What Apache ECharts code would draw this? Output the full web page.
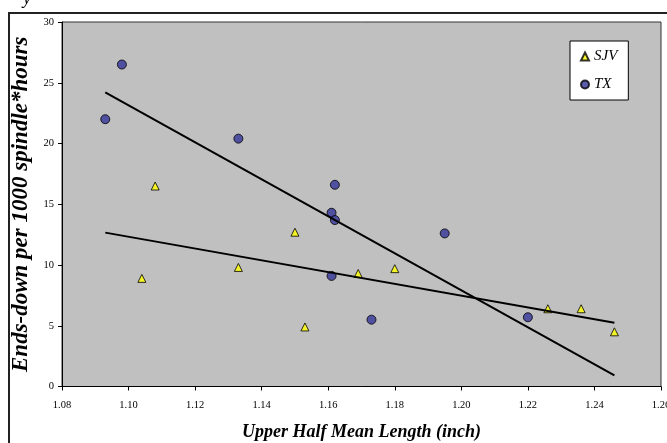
<!DOCTYPE html>
<html>
<head>
<meta charset="utf-8">
<script src="https://cdn.jsdelivr.net/npm/echarts@6/dist/echarts.min.js"></script>
<style>
html, body { margin: 0; padding: 0; background: #fff; }
#chart { width: 667px; height: 443px; }
</style>
</head>
<body>
<div id="chart"></div>
<script>
// 数据
var sjvX = [1.104, 1.108, 1.133, 1.150, 1.153, 1.169, 1.180, 1.226, 1.236, 1.246];
var sjvY = [8.9, 16.5, 9.8, 12.7, 4.9, 9.3, 9.7, 6.4, 6.4, 4.5];
var txX = [1.093, 1.098, 1.133, 1.161, 1.162, 1.162, 1.161, 1.173, 1.195, 1.220];
var txY = [22.0, 26.5, 20.4, 14.3, 16.6, 13.7, 9.1, 5.5, 12.6, 5.7];
var xTicks = [1.08, 1.10, 1.12, 1.14, 1.16, 1.18, 1.20, 1.22, 1.24, 1.26];
var yTicks = [0, 5, 10, 15, 20, 25, 30];

var serif = "'Liberation Serif', 'Times New Roman', serif";

// 线性趋势线 (最小二乘)
var linFit = function (xs, ys) {
    var n = xs.length, mx = 0, my = 0, sxy = 0, sxx = 0;
    for (var i = 0; i < n; i++) { mx += xs[i]; my += ys[i]; }
    mx /= n; my /= n;
    for (var j = 0; j < n; j++) {
        sxy += (xs[j] - mx) * (ys[j] - my);
        sxx += (xs[j] - mx) * (xs[j] - mx);
    }
    var k = sxy / sxx;
    return function (x) { return my + k * (x - mx); };
};

var allX = sjvX.concat(txX);
var x0 = Math.min.apply(null, allX), x1 = Math.max.apply(null, allX);
var sjvFit = linFit(sjvX, sjvY), txFit = linFit(txX, txY);

var pairs = function (xs, ys) {
    return xs.map(function (x, i) { return [x, ys[i]]; });
};

var myChart = echarts.init(document.getElementById('chart'));
var option = {
    animation: false,
    backgroundColor: '#fff',
    grid: {
        left: 62, top: 22, right: 6, bottom: 56.5,
        containLabel: false,
        outerBoundsMode: 'none',
        show: true,
        backgroundColor: '#c0c0c0',
        borderColor: '#333',
        borderWidth: 1
    },
    graphic: [
        {
            type: 'rect',
            shape: { x: 9, y: 13, width: 720, height: 500 },
            style: { fill: 'none', stroke: '#222', lineWidth: 2 },
            silent: true
        },
        {
            type: 'text',
            left: 23, top: -10,
            style: { text: 'y', font: 'italic 18px ' + serif, fill: '#000' },
            silent: true
        }
    ],
    legend: {
        data: ['SJV', 'TX'],
        orient: 'vertical',
        left: 570, top: 41,
        padding: [8, 11, 8, 10],
        itemGap: 13,
        itemWidth: 8, itemHeight: 8,
        backgroundColor: '#fff',
        borderColor: '#000',
        borderWidth: 1,
        borderRadius: 0,
        textStyle: { fontFamily: serif, fontStyle: 'italic', fontSize: 15, color: '#000' }
    },
    xAxis: {
        type: 'value',
        min: xTicks[0], max: xTicks[xTicks.length - 1], interval: 0.02,
        name: 'Upper Half Mean Length (inch)',
        nameLocation: 'middle',
        nameGap: 37,
        nameTextStyle: { fontFamily: serif, fontStyle: 'italic', fontWeight: 'bold', fontSize: 18, color: '#000' },
        axisLine: { lineStyle: { color: '#000', width: 1 } },
        axisTick: { show: true, length: 4, lineStyle: { color: '#000' } },
        axisLabel: {
            fontFamily: serif, fontSize: 10.5, color: '#000', margin: 13,
            formatter: function (v) { return v.toFixed(2); }
        },
        splitLine: { show: false }
    },
    yAxis: {
        type: 'value',
        min: yTicks[0], max: yTicks[yTicks.length - 1], interval: 5,
        name: 'Ends-down per 1000 spindle*hours',
        nameLocation: 'middle',
        nameGap: 24,
        nameTextStyle: { fontFamily: serif, fontStyle: 'italic', fontWeight: 'bold', fontSize: 23, color: '#000' },
        axisLine: { show: true, lineStyle: { color: '#000', width: 1 } },
        axisTick: { show: true, length: 4, lineStyle: { color: '#000' } },
        axisLabel: { fontFamily: serif, fontSize: 10.5, color: '#000', margin: 8 },
        splitLine: { show: false }
    },
    series: [
        {
            name: 'SJV',
            type: 'scatter',
            symbol: 'triangle',
            symbolSize: 8,
            itemStyle: { color: '#ffff00', borderColor: '#000', borderWidth: 1 },
            data: pairs(sjvX, sjvY)
        },
        {
            name: 'TX',
            type: 'scatter',
            symbol: 'circle',
            symbolSize: 9,
            itemStyle: { color: '#333399', borderColor: '#000', borderWidth: 1 },
            data: pairs(txX, txY)
        },
        {
            name: 'SJV trend',
            type: 'line',
            showSymbol: false,
            silent: true,
            z: 3,
            lineStyle: { color: '#000', width: 2 },
            data: [[x0, sjvFit(x0)], [x1, sjvFit(x1)]]
        },
        {
            name: 'TX trend',
            type: 'line',
            showSymbol: false,
            silent: true,
            z: 3,
            lineStyle: { color: '#000', width: 2 },
            data: [[x0, txFit(x0)], [x1, txFit(x1)]]
        }
    ]
};
myChart.setOption(option);
</script>
</body>
</html>
